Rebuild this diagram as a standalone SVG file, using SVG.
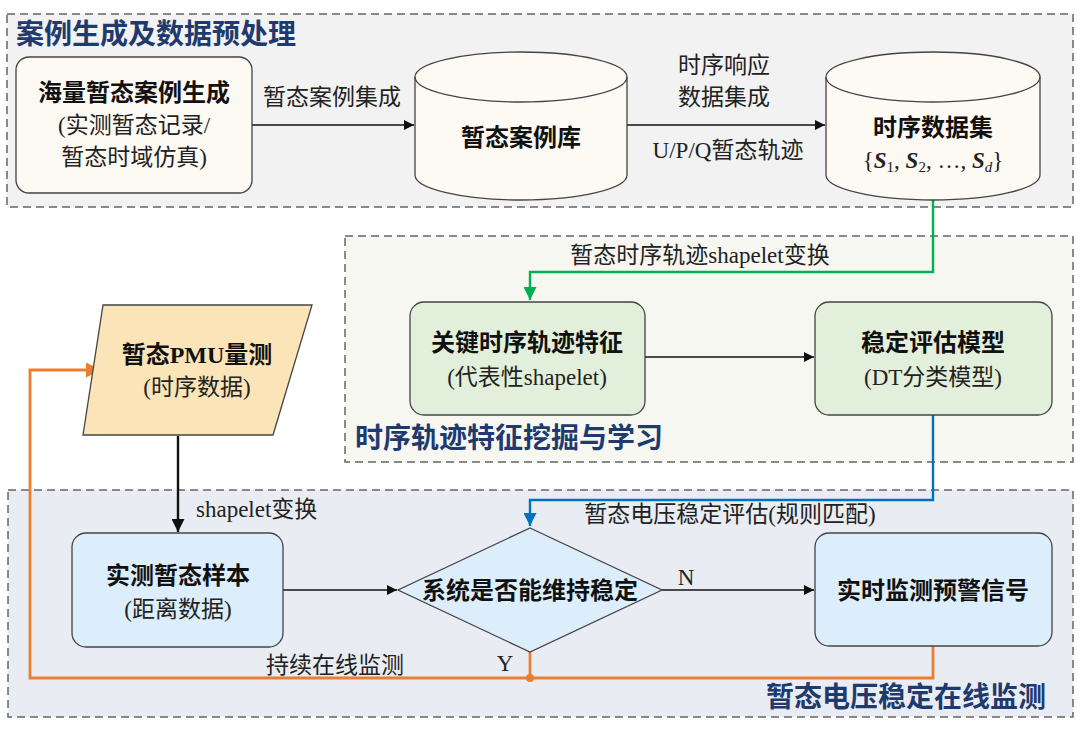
<svg xmlns="http://www.w3.org/2000/svg" width="1080" height="735" viewBox="0 0 1080 735">
<defs>
<style>
.grp{stroke:#666;stroke-width:1.5;stroke-dasharray:8 5}
.title{font-family:"Liberation Serif","Noto Sans CJK SC",serif;font-size:28px;font-weight:bold;fill:#1f3a6e}
.node{stroke:#444;stroke-width:1.3}
.nt{font-family:"Liberation Serif","Noto Sans CJK SC",serif;font-size:24px;font-weight:bold;fill:#111;text-anchor:middle}
.ns{font-family:"Liberation Serif","Noto Sans CJK SC",serif;font-size:23px;fill:#222;text-anchor:middle}
.lb{font-family:"Liberation Serif","Noto Sans CJK SC",serif;font-size:23px;fill:#222}
.conn{fill:none}
</style>
<marker id="ab" viewBox="0 0 10 10" refX="10" refY="5" markerWidth="10" markerHeight="10" markerUnits="userSpaceOnUse" orient="auto"><path d="M0,0 L10,5 L0,10 Z" fill="#111"/></marker>
<marker id="abk" viewBox="0 0 10 10" refX="10" refY="5" markerWidth="13" markerHeight="13" markerUnits="userSpaceOnUse" orient="auto"><path d="M0,0 L10,5 L0,10 Z" fill="#111"/></marker>
<marker id="ag" viewBox="0 0 10 10" refX="10" refY="5" markerWidth="13" markerHeight="13" markerUnits="userSpaceOnUse" orient="auto"><path d="M0,0 L10,5 L0,10 Z" fill="#00b050"/></marker>
<marker id="abl" viewBox="0 0 10 10" refX="10" refY="5" markerWidth="13" markerHeight="13" markerUnits="userSpaceOnUse" orient="auto"><path d="M0,0 L10,5 L0,10 Z" fill="#0070c0"/></marker>
<marker id="ao" viewBox="0 0 10 10" refX="10" refY="5" markerWidth="15" markerHeight="15" markerUnits="userSpaceOnUse" orient="auto"><path d="M0,0 L10,5 L0,10 Z" fill="#ed7d31"/></marker>
</defs>
<rect width="1080" height="735" fill="#ffffff"/>

<g id="group-preprocess">
<rect class="grp" x="7" y="14" width="1066" height="193" fill="#f2f2f2"/>
<text class="title" x="16" y="44">案例生成及数据预处理</text>
</g>
<g id="group-mining">
<rect class="grp" x="345" y="236" width="728" height="226" fill="#f7f7f2"/>
<text class="title" x="355" y="448">时序轨迹特征挖掘与学习</text>
</g>
<g id="group-monitor">
<rect class="grp" x="8" y="490" width="1065" height="227" fill="#e9edf3"/>
<text class="title" x="1046" y="707" text-anchor="end">暂态电压稳定在线监测</text>
</g>

<g id="connectors">
<line class="conn" x1="252" y1="125" x2="414" y2="125" style="stroke:#111;stroke-width:1.6" marker-end="url(#ab)"/>
<line class="conn" x1="627" y1="125" x2="825" y2="125" style="stroke:#111;stroke-width:1.6" marker-end="url(#ab)"/>
<polyline class="conn" points="933,200 933,272 530,272 530,300" style="stroke:#00b050;stroke-width:2.4" marker-end="url(#ag)"/>
<line class="conn" x1="645" y1="357" x2="814" y2="357" style="stroke:#111;stroke-width:1.6" marker-end="url(#ab)"/>
<polyline class="conn" points="933,415 933,500 530,500 530,526" style="stroke:#0070c0;stroke-width:2.4" marker-end="url(#abl)"/>
<line class="conn" x1="178" y1="436" x2="178" y2="532" style="stroke:#111;stroke-width:2.4" marker-end="url(#abk)"/>
<line class="conn" x1="283" y1="590" x2="397" y2="590" style="stroke:#111;stroke-width:1.6" marker-end="url(#ab)"/>
<line class="conn" x1="662" y1="590" x2="814" y2="590" style="stroke:#111;stroke-width:1.6" marker-end="url(#ab)"/>
<polyline class="conn" points="933,646 933,678 30,678 30,370 101,370" style="stroke:#ed7d31;stroke-width:2.8" marker-end="url(#ao)"/>
<line class="conn" x1="530" y1="652" x2="530" y2="678" style="stroke:#ed7d31;stroke-width:2.8"/>
<circle cx="530" cy="678" r="4" fill="#ed7d31"/>
<text class="lb" x="332" y="105" text-anchor="middle">暂态案例集成</text>
<text class="lb" x="724" y="73" text-anchor="middle">时序响应</text>
<text class="lb" x="724" y="105" text-anchor="middle">数据集成</text>
<text class="lb" x="728" y="158" text-anchor="middle">U/P/Q暂态轨迹</text>
<text class="lb" x="700" y="263" text-anchor="middle">暂态时序轨迹shapelet变换</text>
<text class="lb" x="730" y="522" text-anchor="middle">暂态电压稳定评估(规则匹配)</text>
<text class="lb" x="196" y="517">shapelet变换</text>
<text class="lb" x="686" y="585" text-anchor="middle">N</text>
<text class="lb" x="505" y="671" text-anchor="middle">Y</text>
<text class="lb" x="335" y="673" text-anchor="middle">持续在线监测</text>
</g>

<g id="node-case-gen">
<rect class="node" x="16" y="57" width="236" height="136" rx="13" fill="#fdf9f3"/>
<text class="nt" x="134" y="101">海量暂态案例生成</text>
<text class="ns" x="134" y="133">(实测暂态记录/</text>
<text class="ns" x="134" y="165">暂态时域仿真)</text>
</g>

<g id="node-case-db">
<path class="node" d="M415,77 A106,25 0 0 1 627,77 L627,175 A106,25 0 0 1 415,175 Z" fill="#fdf9f3"/>
<path class="node" d="M415,77 A106,25 0 0 0 627,77" fill="none"/>
<text class="nt" x="521" y="146">暂态案例库</text>
</g>

<g id="node-ts-db">
<path class="node" d="M826,77 A107,25 0 0 1 1040,77 L1040,175 A107,25 0 0 1 826,175 Z" fill="#fdf9f3"/>
<path class="node" d="M826,77 A107,25 0 0 0 1040,77" fill="none"/>
<text class="nt" x="933" y="136">时序数据集</text>
<text class="ns" x="933" y="168">{<tspan font-weight="bold" font-style="italic">S</tspan><tspan font-size="15" dy="4">1</tspan><tspan dy="-4">, </tspan><tspan font-weight="bold" font-style="italic">S</tspan><tspan font-size="15" dy="4">2</tspan><tspan dy="-4">, …, </tspan><tspan font-weight="bold" font-style="italic">S</tspan><tspan font-size="15" font-style="italic" dy="4">d</tspan><tspan dy="-4">}</tspan></text>
</g>

<g id="node-key-feature">
<rect class="node" x="410" y="302" width="235" height="113" rx="14" fill="#e2efda"/>
<text class="nt" x="527" y="351">关键时序轨迹特征</text>
<text class="ns" x="527" y="385">(代表性shapelet)</text>
</g>

<g id="node-model">
<rect class="node" x="815" y="302" width="237" height="113" rx="14" fill="#e2efda"/>
<text class="nt" x="933" y="351">稳定评估模型</text>
<text class="ns" x="933" y="385">(DT分类模型)</text>
</g>

<g id="node-pmu">
<polygon class="node" points="103,305 312,305 273,435 83,435" fill="#fbe4b8"/>
<text class="nt" x="197" y="363">暂态PMU量测</text>
<text class="ns" x="197" y="395">(时序数据)</text>
</g>

<g id="node-sample">
<rect class="node" x="72" y="533" width="211" height="114" rx="14" fill="#dcedfb"/>
<text class="nt" x="178" y="584">实测暂态样本</text>
<text class="ns" x="178" y="617">(距离数据)</text>
</g>

<g id="node-decision">
<polygon class="node" points="530,528 662,590 530,652 398,590" fill="#dcedfb"/>
<text class="nt" x="530" y="599">系统是否能维持稳定</text>
</g>

<g id="node-warning">
<rect class="node" x="815" y="533" width="237" height="113" rx="14" fill="#dcedfb"/>
<text class="nt" x="933" y="599">实时监测预警信号</text>
</g>
</svg>
